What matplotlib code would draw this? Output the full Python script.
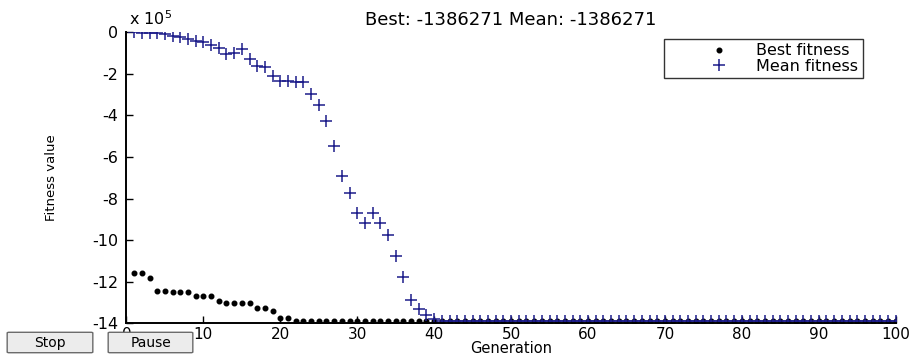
import matplotlib.pyplot as plt
from matplotlib.patches import FancyBboxPatch
from matplotlib.ticker import FuncFormatter

plt.rcParams['font.family'] = ['DejaVu Sans']

# fitness per generation
generation = list(range(1, 101))
best_fitness = [-1160000, -1160000, -1184000, -1242000, -1242000, -1250000, -1250000,
                -1250000, -1268000, -1268000, -1268000, -1293000, -1300000, -1302000,
                -1302000, -1302000, -1325000, -1325000, -1341000, -1375000, -1375000] \
               + [-1386271] * 79
mean_fitness = [-2000, -4000, -5000, -7000, -10000, -18000, -25000, -35000, -42000,
                -50000, -62000, -75000, -105000, -100000, -82000, -130000, -164000,
                -166000, -212000, -236000, -236000, -238000, -238000, -298000, -352000,
                -428000, -547000, -690000, -774000, -869000, -920000, -869000, -920000,
                -973000, -1075000, -1176000, -1288000, -1333000, -1360000, -1380000] \
               + [-1386271] * 60
best_final = -1386271
mean_final = -1386271

fig = plt.figure(figsize=(9.13, 3.56), dpi=100)
ax = fig.add_axes([0.1385, 0.0916, 0.8425, 0.8185])

p1, = ax.plot(generation, best_fitness, linestyle='none', marker='o',
              markersize=3.3, color='black')
p2, = ax.plot(generation, mean_fitness, linestyle='none', marker='+',
              markersize=8, markeredgewidth=1.1, color='#1c1c8a')

ax.set_xlim(0, 100)
ax.set_ylim(-1400000, 0)
ax.set_xticks(range(0, 101, 10))
ax.set_yticks(range(-1400000, 1, 200000))
ax.yaxis.set_major_formatter(FuncFormatter(lambda v, p: '%g' % (v / 1e5)))

for s in ['top', 'right']:
    ax.spines[s].set_visible(False)
for s in ['left', 'bottom']:
    ax.spines[s].set_linewidth(1.4)
ax.tick_params(direction='in', length=5, width=1, labelsize=11.5, pad=6)
ax.tick_params(axis='x', labelsize=11, pad=2.5)

ax.text(0.003, 1.015, r'x 10$^5$', transform=ax.transAxes, fontsize=11.5,
        ha='left', va='bottom')
ax.set_title('Best: %d Mean: %d' % (best_final, mean_final), fontsize=13, pad=5)
ax.set_xlabel('Generation', fontsize=10.5)
ax.xaxis.set_label_coords(0.5, -0.062)
ax.set_ylabel('Fitness value', fontsize=9.5)
ax.yaxis.set_label_coords(-0.089, 0.5)

leg = ax.legend([p1, p2], ['Best fitness', 'Mean fitness'], loc='upper left',
                bbox_to_anchor=(0.699, 0.976), borderaxespad=0, fancybox=False,
                edgecolor='black', fontsize=11.5, numpoints=1, borderpad=0.28,
                labelspacing=0.02, handlelength=6.3, handletextpad=-0.8)
leg.get_frame().set_linewidth(1.0)

# Stop / Pause buttons along the bottom edge
W, H = 913.0, 356.0
for x0, x1, label in [(7, 93, 'Stop'), (108, 193, 'Pause')]:
    btn = FancyBboxPatch(((x0 + 2) / W, (H - 354 + 2) / H), (x1 - x0 - 4) / W, (23 - 4) / H,
                         boxstyle='round,pad=0.002', transform=fig.transFigure,
                         facecolor='#ececec', edgecolor='#6a6a6a', linewidth=1.0,
                         zorder=5)
    fig.add_artist(btn)
    fig.text((x0 + x1) / 2 / W, (H - 343) / H, label, ha='center', va='center',
             fontsize=10, zorder=6)

plt.savefig('out.png', dpi=100)
